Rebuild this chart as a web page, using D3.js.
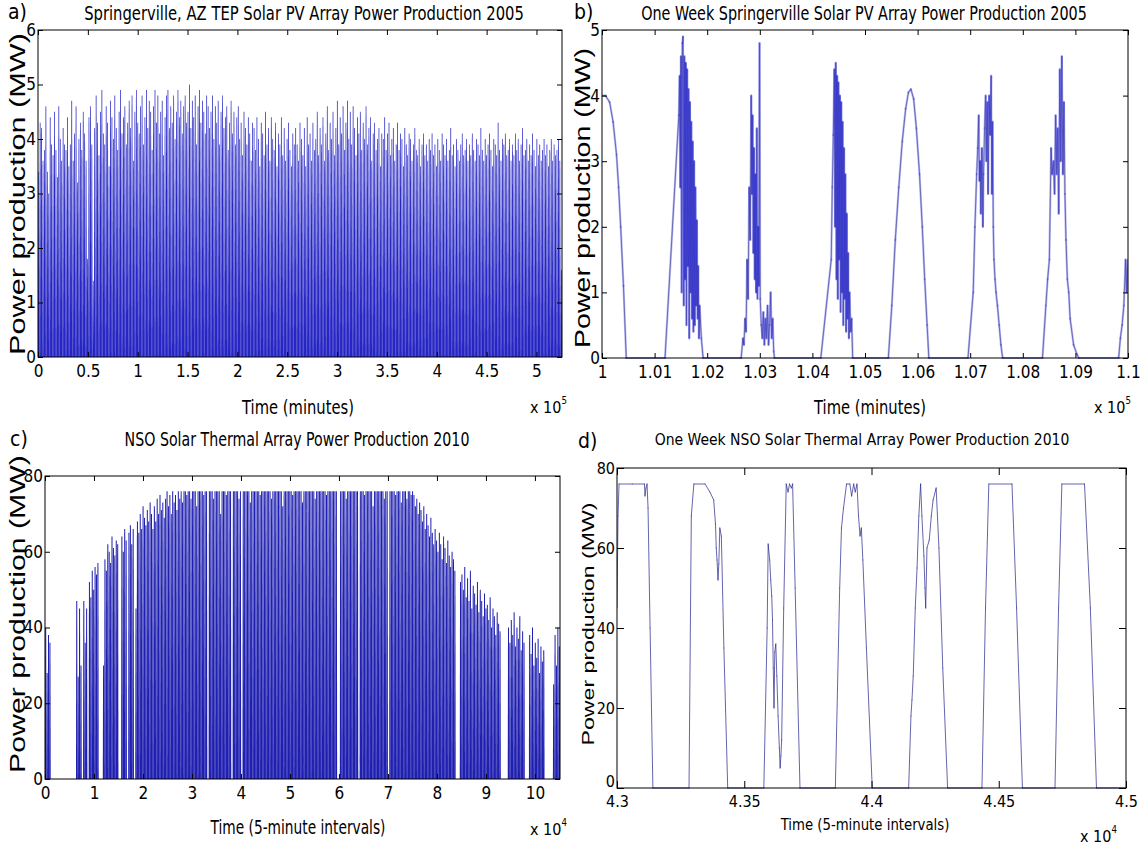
<!DOCTYPE html>
<html>
<head>
<meta charset="utf-8">
<script src="https://cdn.jsdelivr.net/npm/d3@7/dist/d3.min.js"></script>
<style>
body { margin: 0; background: #fff; }
text { font-family: "Liberation Sans Narrow", "Arial Narrow", "DejaVu Sans Condensed", sans-serif; fill: #000; }
.ylab { font-family: "Liberation Sans", Arial, sans-serif; }
</style>
</head>
<body>
<div id="chart"></div>
<script>
// a) Springerville PV 2005, daily peak power (MW), one value per day
var pvDailyPeak = [
  3.4,4.3,4.2,3.6,3.8,4.6,3.4,3.0,4.4,3.9,3.7,4.5,3.8,3.3,4.6,4.0,3.6,4.2,3.9,3.8,4.4,3.5,3.9,4.7,3.6,4.1,4.6,3.2,4.0,4.3,
  3.8,4.5,4.1,3.6,1.8,4.4,4.6,3.9,1.4,4.2,4.8,4.3,3.7,4.5,4.9,4.1,3.9,4.6,4.3,3.5,4.7,4.4,4.0,4.8,4.2,3.8,4.5,4.9,4.1,4.4,
  4.6,3.9,4.3,4.7,4.2,4.8,3.6,4.5,4.9,4.3,4.1,4.6,4.8,3.9,4.4,4.9,4.2,4.7,4.5,3.8,4.6,4.9,4.3,4.8,4.1,4.5,4.7,3.7,4.4,4.8,
  4.9,4.2,4.6,4.3,4.8,4.0,4.5,4.9,4.4,4.7,4.1,4.6,4.8,4.3,4.5,5.0,4.2,4.7,4.4,4.8,3.9,4.6,4.9,4.3,4.7,4.5,4.1,4.8,4.6,4.2,
  4.5,4.8,4.0,4.6,4.3,4.7,3.9,4.5,4.8,4.2,4.4,4.6,3.8,4.3,4.7,4.1,4.5,3.9,4.4,4.6,4.0,4.3,3.7,4.5,4.2,3.9,4.4,4.1,3.6,4.3,
  4.2,3.8,4.4,4.0,3.5,4.3,4.1,3.7,4.5,3.9,4.2,3.6,4.4,4.0,3.8,4.3,3.5,4.1,3.9,4.4,3.7,4.2,3.6,4.0,4.3,3.8,3.5,4.1,3.9,4.2,
  3.9,3.6,4.3,4.0,3.7,4.2,3.5,4.4,3.9,4.1,3.6,4.3,3.8,4.0,4.5,3.7,4.2,3.9,4.4,3.6,4.1,4.6,3.8,4.3,4.0,4.5,3.7,4.2,4.7,3.9,
  4.4,4.1,4.6,3.8,4.3,4.7,4.0,4.5,3.9,4.6,4.2,3.7,4.4,4.1,4.5,3.8,4.3,4.0,4.6,3.9,4.2,4.4,3.6,4.1,4.3,3.8,4.0,4.2,3.5,4.1,
  4.0,4.4,3.8,4.1,4.3,3.7,4.0,4.2,3.6,3.9,4.3,3.8,4.1,4.0,3.5,4.2,3.9,3.7,4.1,4.0,3.6,3.9,4.2,3.8,3.7,4.0,3.5,3.9,4.1,3.7,
  3.9,3.6,4.0,3.8,4.1,3.7,3.9,3.5,4.0,3.8,3.6,4.1,3.9,3.7,4.0,3.6,3.8,4.2,3.7,3.9,3.5,4.0,3.8,3.6,3.9,4.1,3.7,3.8,4.0,3.6,
  3.9,3.7,4.1,3.8,3.6,4.0,3.9,3.7,4.2,3.8,3.6,4.0,3.7,3.9,4.1,3.8,3.5,4.0,3.9,3.7,4.3,3.8,3.6,4.0,3.9,4.1,3.7,3.8,4.0,3.6,
  3.9,3.7,4.1,3.8,4.0,3.6,3.9,4.2,3.7,3.8,4.0,3.6,3.9,3.7,4.1,3.8,3.5,4.0,3.7,3.9,3.6,3.8,4.0,3.7,3.9,3.5,3.8,4.0,3.6,3.9,3.7,3.8,4.0,3.6,1.6
];

// b) one week of Springerville PV (minutes, MW)
var pvWeekMinute = [
  100000,100066,100145,100211,100276,100316,100355,100408,100461,
  101198,101461,101475,101488,101501,101514,101527,101540,101554,101567,101580,101593,101606,101619,101633,101646,101659,
  101672,101685,101698,101712,101725,101738,101751,101764,101777,101791,101804,101817,101830,101843,101856,101889,101922,
  102646,102679,102699,102719,102739,102758,102778,102798,102818,102837,102850,102864,102877,102890,102903,102916,102929,
  102943,102956,102969,102982,102995,103008,103028,103048,103068,103087,103107,103127,103147,103166,103186,103206,103226,
  103245,103265,103278,
  104160,104358,104378,104397,104417,104430,104444,104457,104470,104483,104496,104509,104523,104536,104549,104562,104575,
  104588,104602,104615,104628,104641,104654,104667,104681,104694,104707,104727,104746,104766,
  105444,105510,105576,105642,105708,105773,105826,105872,105925,105977,106037,106089,106135,106181,106214,
  106958,107057,107090,107123,107143,107162,107175,107189,107202,107222,107241,107254,107274,107294,107307,107327,107340,
  107360,107379,107399,107412,107426,107439,107452,107472,107491,107518,107551,107584,107617,
  108374,108439,108472,108505,108538,108558,108584,108604,108624,108643,108663,108683,108703,108722,108742,108762,108782,
  108801,108821,108847,108874,108900,108966,109032,109065,
  109822,109855,109888,109921,109954,109974,110000
];
var pvWeekPower = [
  4.0,4.0,3.9,3.6,3.1,2.6,2.0,1.1,0,
  0,3.7,4.3,2.6,4.6,1.0,4.8,4.9,0.8,4.6,1.2,4.5,0.5,4.4,1.4,4.1,0.3,
  3.9,1.0,3.6,0.6,3.3,0.4,3.0,0.5,2.6,0.8,2.1,0.6,1.4,0.3,0.8,0.3,0,
  0,0.3,0.2,0.6,0.4,1.5,0.9,2.6,1.8,4.0,2.5,3.7,1.6,3.2,1.2,2.8,1.0,
  3.5,0.9,2.0,1.1,4.8,0.9,0.5,0.3,0.7,0.2,0.6,0.3,0.8,0.2,0.5,1.0,0.3,
  0.6,0.1,0,
  0,1.5,2.6,3.4,4.4,2.0,4.5,1.2,4.3,0.9,4.2,1.5,4.0,0.7,3.9,1.0,3.6,
  0.5,3.2,0.9,2.8,0.4,2.2,0.6,1.6,0.3,1.0,0.4,0.6,0,
  0,0.8,1.8,2.6,3.3,3.8,4.05,4.1,3.95,3.5,2.8,2.0,1.2,0.5,0,
  0,1.0,2.0,2.8,3.2,3.7,2.7,3.0,2.2,3.2,2.0,2.8,3.5,4.0,3.0,3.9,2.5,
  4.0,3.4,4.3,2.5,3.6,2.0,1.5,1.2,1.0,0.8,0.5,0.2,0,
  0,0.8,1.2,1.5,3.2,2.8,3.0,2.5,3.7,2.8,3.5,2.2,4.4,3.0,4.6,2.8,3.9,
  2.5,1.8,1.2,1.0,0.6,0.2,0.05,0,
  0,0.3,0.5,0.8,1.5,1.0,1.5
];

// c) NSO solar thermal 2010, daily peak power (MW), one value per day
var nsoDailyPeak = [
  40,28,38,36,
  0,0,0,0,0,0,0,0,0,0,0,0,0,0,0,0,0,0,
  47,27,45,30,
  0,47,36,45,0,
  52,48,55,50,56,54,57,
  0,0,0,30,
  58,55,62,60,57,64,61,59,63,62,
  0,0,
  64,60,66,63,0,65,67,62,66,
  0,45,
  68,65,70,66,72,69,67,71,68,73,70,66,
  72,68,74,70,75,71,73,69,74,76,72,75,70,76,73,75,71,76,74,76,73,
  76,76,75,76,76,74,76,76,76,72,76,76,76,76,75,76,76,0,76,76,
  76,74,76,76,76,76,70,76,76,76,75,76,76,76,0,76,76,76,76,74,
  76,0,76,76,76,76,76,73,76,76,76,76,76,76,75,76,76,76,76,76,
  76,76,74,76,76,76,76,76,76,76,72,76,76,76,76,76,76,75,76,76,
  76,76,76,76,73,76,76,76,76,76,76,76,76,74,76,76,76,76,76,76,
  76,75,76,76,76,76,76,76,76,0,0,76,76,76,76,74,76,76,76,76,
  76,76,76,76,0,76,76,76,75,76,76,76,76,76,72,76,76,76,76,76,
  76,76,74,76,76,0,76,76,76,76,75,76,76,76,73,76,76,76,74,76,
  76,75,76,
  75,72,74,70,73,71,68,72,66,70,67,64,69,65,62,
  66,63,60,65,62,58,64,61,57,63,59,56,60,58,55,
  0,0,0,52,
  54,50,56,48,53,47,55,45,51,49,46,52,44,50,47,43,49,45,
  46,42,48,40,45,43,38,44,41,39,
  0,0,0,0,0,40,36,
  42,38,44,35,40,37,43,34,39,36,
  0,0,0,
  38,33,40,30,36,32,37,28,35,31,34,
  0,0,0,0,0,0,
  25,38,30,40,35
];

// d) one week of NSO solar thermal (5-minute intervals, MW)
var nsoWeekInterval = [
  43000,43004,43008,43060,43108,43110,43114,43118,43122,43130,43141,
  43283,43292,43302,43346,43365,43380,43387,43390,43393,43397,43400,43404,43410,43420,43435,
  43577,43590,43594,43600,43604,43608,43611,43614,43617,43620,43624,43628,43633,43638,43641,43644,43647,43655,43665,
  43672,43678,43685,43690,43700,43719,
  43858,43875,43882,43890,43902,43915,43922,43930,43936,43943,43949,43955,43960,43966,43980,44003,
  44146,44155,44159,44164,44172,44179,44186,44193,44198,44206,44210,44213,44218,44227,44235,44242,44254,44265,44280,44299,
  44434,44448,44461,44552,44570,44593,
  44721,44735,44748,44837,44860,44884,
  45000
];
var nsoWeekPower = [
  45,68,76,76,76,73,75,76,70,40,0,
  0,68,76,76,74,72,66,60,57,52,56,65,63,35,0,
  0,40,61,57,52,48,42,30,20,34,36,28,18,10,5,8,12,45,76,
  74,76,75,76,50,0,
  0,50,65,70,76,76,73,76,74,76,68,63,65,57,35,0,
  0,18,22,28,45,55,68,76,68,58,50,45,60,62,68,72,75,60,30,0,
  0,45,76,76,45,0,
  0,45,76,76,45,0,
  0
];

// tick labels (axis units as printed, times the exponent)
var pvTickX = [0, 0.5, 1, 1.5, 2, 2.5, 3, 3.5, 4, 4.5, 5];
var pvTickY = [0, 1, 2, 3, 4, 5, 6];
var pvWeekTickX = [1, 1.01, 1.02, 1.03, 1.04, 1.05, 1.06, 1.07, 1.08, 1.09, 1.1];
var pvWeekTickY = [0, 1, 2, 3, 4, 5];
var nsoTickX = [0, 1, 2, 3, 4, 5, 6, 7, 8, 9, 10];
var nsoTickY = [0, 20, 40, 60, 80];
var nsoWeekTickX = [4.3, 4.35, 4.4, 4.45, 4.5];

var svg = d3.select("#chart").append("svg")
    .attr("width", 1141)
    .attr("height", 847)
    .style("display", "block");
svg.append("rect").attr("width", 1141).attr("height", 847).attr("fill", "#fff");

function fmt(v) { return String(+v.toFixed(3)); }

// one MATLAB-like axes box with inward ticks on all four sides
function makePanel(box, xDomain, yDomain, xTicks, xMul, yTicks, tick, fontSize, id) {
    var x = d3.scaleLinear().domain(xDomain).range([box.left, box.right]);
    var y = d3.scaleLinear().domain(yDomain).range([box.bottom, box.top]);
    var g = svg.append("g");

    g.append("clipPath").attr("id", id)
        .append("rect")
        .attr("x", box.left).attr("y", box.top)
        .attr("width", box.right - box.left).attr("height", box.bottom - box.top + 1);

    var plot = g.append("g").attr("clip-path", "url(#" + id + ")");

    var xv = xTicks.map(function(t){ return t * xMul; });
    var axes = [
        [d3.axisBottom(x).tickValues(xv).tickFormat(function(d){ return fmt(d / xMul); }), box.bottom],
        [d3.axisTop(x).tickValues(xv).tickFormat(""), box.top]
    ];
    axes.forEach(function(a) {
        var ax = g.append("g").attr("transform", "translate(0," + a[1] + ")")
            .call(a[0].tickSize(-tick).tickPadding(8));
        ax.select(".domain").remove();
        ax.selectAll("text").style("font-size", fontSize + "px");
    });
    var yaxes = [
        [d3.axisLeft(y).tickValues(yTicks).tickFormat(function(d){ return fmt(d); }), box.left],
        [d3.axisRight(y).tickValues(yTicks).tickFormat(""), box.right]
    ];
    yaxes.forEach(function(a) {
        var ax = g.append("g").attr("transform", "translate(" + a[1] + ",0)")
            .call(a[0].tickSize(-tick).tickPadding(2));
        ax.select(".domain").remove();
        ax.selectAll("text").style("font-size", fontSize + "px");
    });
    g.selectAll(".tick line").attr("stroke", "#000");

    g.append("rect")
        .attr("x", box.left).attr("y", box.top)
        .attr("width", box.right - box.left).attr("height", box.bottom - box.top)
        .attr("fill", "none").attr("stroke", "#000").attr("stroke-width", 1);
    return { x: x, y: y, g: g, plot: plot };
}

// text squeezed or stretched horizontally to a wanted length
function addText(txt, x, y, size, len, opts) {
    opts = opts || {};
    var g = svg.append("g")
        .attr("transform", "translate(" + x + "," + y + ")" + (opts.rotate ? " rotate(-90)" : ""));
    var t = g.append("text")
        .attr("text-anchor", opts.anchor || "middle")
        .style("font-size", size + "px")
        .text(txt);
    if (opts.cls) t.attr("class", opts.cls);
    if (len) {
        var w = t.node().getComputedTextLength();
        t.attr("transform", "scale(" + (len / w) + ",1)");
    }
    return t;
}

function addExponent(x, y, size, e) {
    var t = svg.append("text").attr("x", x).attr("y", y).style("font-size", size + "px");
    t.append("tspan").text("x 10");
    t.append("tspan").attr("dy", -size * 0.55).style("font-size", (size * 0.6) + "px").text(e);
}

// each day drawn as a hump: full width at the base, narrower at the peak
function drawDays(p, values, period, color, topFrac) {
    var a = -0.04, b = 0.5 - topFrac / 2, c = 0.5 + topFrac / 2, e = 1.04;
    p.plot.selectAll("path.day").data(values).join("path")
        .attr("class", "day")
        .attr("d", function(d, i) {
            var t0 = i * period, y0 = p.y(0), y1 = p.y(d);
            return "M" + p.x(t0 + a * period) + "," + y0 +
                "L" + p.x(t0 + b * period) + "," + y1 +
                "L" + p.x(t0 + c * period) + "," + y1 +
                "L" + p.x(t0 + e * period) + "," + y0 + "Z";
        })
        .attr("fill", color);
}

function drawSegments(p, xs, ys, color, opacity, width) {
    var pts = xs.map(function(v, i){ return [p.x(v), p.y(ys[i])]; });
    p.plot.selectAll("line.seg").data(d3.pairs(pts)).join("line")
        .attr("class", "seg")
        .attr("x1", function(d){ return d[0][0]; }).attr("y1", function(d){ return d[0][1]; })
        .attr("x2", function(d){ return d[1][0]; }).attr("y2", function(d){ return d[1][1]; })
        .attr("stroke", color).attr("stroke-opacity", opacity).attr("stroke-width", width)
        .attr("stroke-linecap", "round");
}

function drawLine(p, xs, ys, color, width) {
    var line = d3.line().x(function(d){ return p.x(d[0]); }).y(function(d){ return p.y(d[1]); });
    p.plot.append("path")
        .attr("d", line(xs.map(function(v, i){ return [v, ys[i]]; })))
        .attr("fill", "none").attr("stroke", color).attr("stroke-width", width);
}

// ---- a) ----
var pa = makePanel({left: 38, right: 562, top: 30, bottom: 357}, [0, 525600], [0, 6],
    pvTickX, 1e5, pvTickY, 5, 17, "clipA");
drawDays(pa, pvDailyPeak, 1440, "#2626c4", 0.5);

// ---- b) ----
var pb = makePanel({left: 602, right: 1128, top: 30, bottom: 358}, [100000, 110000], [0, 5],
    pvWeekTickX, 1e5, pvWeekTickY, 5, 17, "clipB");
drawLine(pb, pvWeekMinute, pvWeekPower, "#9090a6", 1);
drawSegments(pb, pvWeekMinute, pvWeekPower, "#0a0ae0", 0.28, 2.2);

// ---- c) ----
var pc = makePanel({left: 45, right: 560, top: 476, bottom: 779}, [0, 105120], [0, 80],
    nsoTickX, 1e4, nsoTickY, 5, 17, "clipC");
drawDays(pc, nsoDailyPeak, 288, "#1f1fb0", 0.7);

// ---- d) ----
var pd = makePanel({left: 617, right: 1126, top: 468, bottom: 788}, [43000, 45000], [0, 80],
    nsoWeekTickX, 1e4, nsoTickY, 7, 16, "clipD");
drawSegments(pd, nsoWeekInterval, nsoWeekPower, "#2a2a8e", 0.72, 1);
pd.g.selectAll(".tick text").filter(function(d){ return d === 0; }).attr("dy", "-0.1em");

// ---- titles and labels ----
addText("a)", 8, 19, 21, null, {anchor: "start"});
addText("Springerville, AZ TEP Solar PV Array Power Production 2005", 304, 20, 19, 440);
addText("b)", 574, 19, 21, null, {anchor: "start"});
addText("One Week Springerville Solar PV Array Power Production 2005", 864, 20, 19, 446);
addText("c)", 10, 446, 21, null, {anchor: "start"});
addText("NSO Solar Thermal Array Power Production 2010", 297, 446, 19, 345);
addText("d)", 578, 448, 21, null, {anchor: "start"});
addText("One Week NSO Solar Thermal Array Power Production 2010", 862, 445, 16, 415);

addText("Power production (MW)", 25, 194, 22, 322, {rotate: true, cls: "ylab"});
addText("Power production (MW)", 590, 198, 22, 300, {rotate: true, cls: "ylab"});
addText("Power production (MW)", 25, 614, 22, 318, {rotate: true, cls: "ylab"});
addText("Power production (MW)", 594, 624, 17, 243, {rotate: true, cls: "ylab"});

addText("Time (minutes)", 298, 414, 20, 112);
addExponent(530, 413, 16, "5");
addText("Time (minutes)", 870, 414, 20, 112);
addExponent(1094, 413, 16, "5");
addText("Time (5-minute intervals)", 298, 834, 20, 175);
addExponent(530, 835, 16, "4");
addText("Time (5-minute intervals)", 865, 830, 16, 169);
addExponent(1080, 842, 16, "4");
</script>
</body>
</html>
